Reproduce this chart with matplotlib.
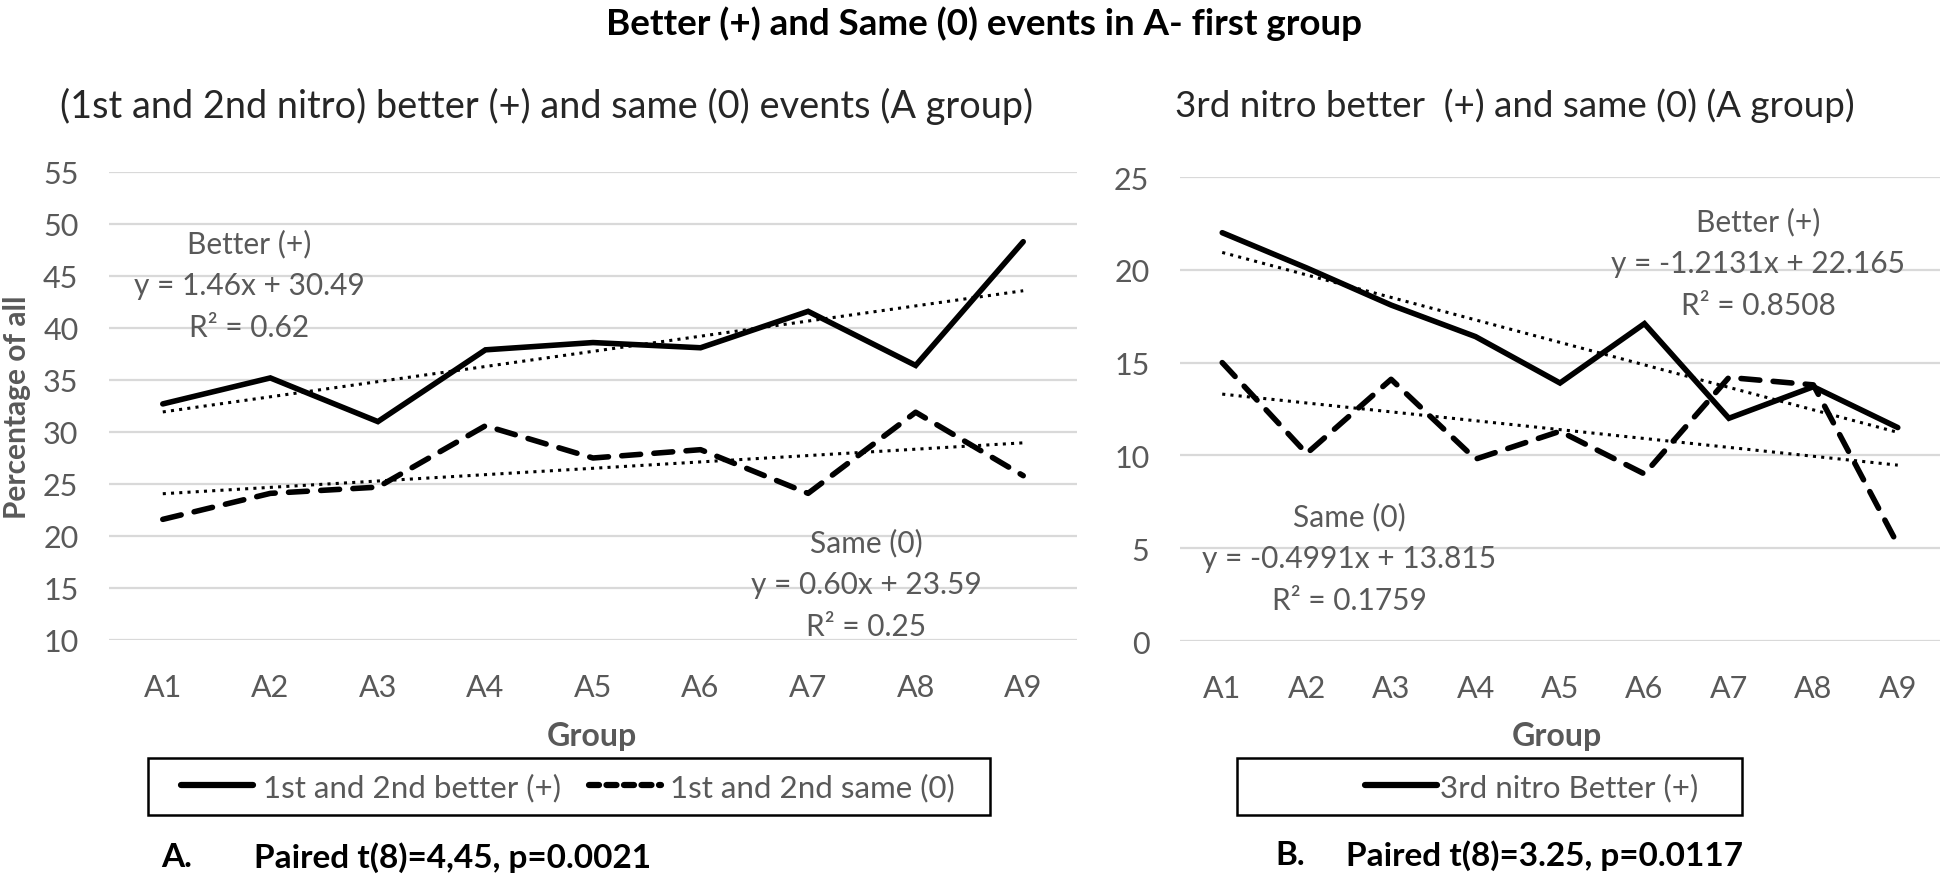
import matplotlib.pyplot as plt
import numpy as np
from matplotlib.patches import Rectangle
from matplotlib.lines import Line2D

groups = ["A1", "A2", "A3", "A4", "A5", "A6", "A7", "A8", "A9"]

# panel A: 1st and 2nd nitro
better_12 = [32.7, 35.2, 31.0, 37.9, 38.6, 38.1, 41.6, 36.4, 48.3]
same_12 = [21.6, 24.1, 24.7, 30.6, 27.5, 28.3, 24.1, 31.9, 25.8]

# panel B: 3rd nitro
better_3 = [22.0, 20.1, 18.1, 16.4, 13.9, 17.1, 12.0, 13.7, 11.5]
same_3 = [15.0, 10.1, 14.1, 9.8, 11.3, 9.0, 14.2, 13.8, 5.2]

yticks_a = [10, 15, 20, 25, 30, 35, 40, 45, 50, 55]
yticks_b = [0, 5, 10, 15, 20, 25]

plt.rcParams['font.family'] = ['Lato', 'DejaVu Sans']

W, H = 1946, 878
GRAY = '#595959'
fig = plt.figure(figsize=(W / 100, H / 100), dpi=100)


def fx(x):
    return x / W


def fy(y):
    return 1 - y / H


def setup(ax, yticks):
    ax.set_xlim(0.5, 9.5)
    ax.set_ylim(yticks[0], yticks[-1])
    ax.set_yticks(yticks)
    ax.set_xticks(np.arange(1, 10))
    ax.set_xticklabels(groups)
    for s in ax.spines.values():
        s.set_visible(False)
    ax.tick_params(axis='both', length=0, labelsize=22, labelcolor=GRAY)
    ax.tick_params(axis='y', pad=22)
    ax.tick_params(axis='x', pad=24)
    ax.grid(axis='y', color='#d9d9d9', linewidth=1.6)
    ax.set_axisbelow(True)


def series(ax, vals_b, vals_s):
    x = np.arange(1, 10)
    ax.plot(x, vals_b, color='black', lw=4, solid_capstyle='round',
            solid_joinstyle='miter', zorder=3)
    ax.plot(x, vals_s, color='black', lw=4, dashes=(3.4, 2.4),
            dash_capstyle='round', zorder=3)
    for v in (vals_b, vals_s):
        c = np.polyfit(x, v, 1)
        ax.plot(x, np.polyval(c, x), color='black', lw=2.2,
                dashes=(1, 1.7), zorder=4)


ax1 = fig.add_axes([fx(109), fy(641), fx(1077) - fx(109), fy(173) - fy(641)])
setup(ax1, yticks_a)
series(ax1, better_12, same_12)

ax2 = fig.add_axes([fx(1180), fy(642), fx(1940) - fx(1180), fy(178) - fy(642)])
setup(ax2, yticks_b)
series(ax2, better_3, same_3)

# titles
fig.text(fx(984), fy(24), "Better (+) and Same (0) events in A- first group",
         ha='center', va='center', fontsize=26.5, fontweight='bold')
fig.text(fx(60), fy(106), "(1st and 2nd nitro) better (+) and same (0) events (A group)",
         ha='left', va='center', fontsize=27.3, color='#262626')
fig.text(fx(1175), fy(106), "3rd nitro better  (+) and same (0) (A group)",
         ha='left', va='center', fontsize=26.5, color='#262626')

# axis titles
fig.text(fx(17), fy(407), "Percentage of all", rotation=90, ha='center', va='center',
         fontsize=21.5, fontweight='bold', color=GRAY)
fig.text(fx(592), fy(737), "Group", ha='center', va='center',
         fontsize=23, fontweight='bold', color=GRAY)
fig.text(fx(1557), fy(737), "Group", ha='center', va='center',
         fontsize=23, fontweight='bold', color=GRAY)

# trendline labels
def label(x, y, lines):
    for i, t in enumerate(lines):
        fig.text(fx(x), fy(y + i * 42), t, ha='center', va='center',
                 fontsize=21.5, color=GRAY)


label(249, 244, ["Better (+)", "y = 1.46x + 30.49", "R² = 0.62"])
label(866, 543, ["Same (0)", "y = 0.60x + 23.59", "R² = 0.25"])
label(1758, 222, ["Better (+)", "y = -1.2131x + 22.165", "R² = 0.8508"])
label(1349, 517, ["Same (0)", "y = -0.4991x + 13.815", "R² = 0.1759"])

# legend boxes
for x0, x1 in [(148, 990), (1237, 1742)]:
    fig.patches.append(Rectangle((fx(x0), fy(816)), fx(x1) - fx(x0), fy(759) - fy(816),
                                 transform=fig.transFigure, fill=False,
                                 edgecolor='black', linewidth=1.8))

h_solid = Line2D([], [], color='black', lw=4.5, solid_capstyle='round')
h_dash = Line2D([], [], color='black', lw=4.5, dashes=(1.6, 1.2),
                dash_capstyle='round')
fig.legend([h_solid, h_dash], ["1st and 2nd better (+)", "1st and 2nd same (0)"],
           loc='center', bbox_to_anchor=(fx(568), fy(788)), ncol=2, frameon=False,
           fontsize=22.5, labelcolor=GRAY, handlelength=2.3, handletextpad=0.3,
           columnspacing=0.9)
fig.legend([h_solid], ["3rd nitro Better (+)"],
           loc='center', bbox_to_anchor=(fx(1532), fy(788)), frameon=False,
           fontsize=22.5, labelcolor=GRAY, handlelength=2.3, handletextpad=0.1)

# test captions
fig.text(fx(161), fy(858), "A.", ha='left', va='center', fontsize=24, fontweight='bold')
fig.text(fx(254), fy(858), "Paired t(8)=4,45, p=0.0021", ha='left', va='center',
         fontsize=24, fontweight='bold')
fig.text(fx(1275), fy(856), "B.", ha='left', va='center', fontsize=24, fontweight='bold')
fig.text(fx(1346), fy(856), "Paired t(8)=3.25, p=0.0117", ha='left', va='center',
         fontsize=24, fontweight='bold')

fig.savefig("out.png", dpi=100)
